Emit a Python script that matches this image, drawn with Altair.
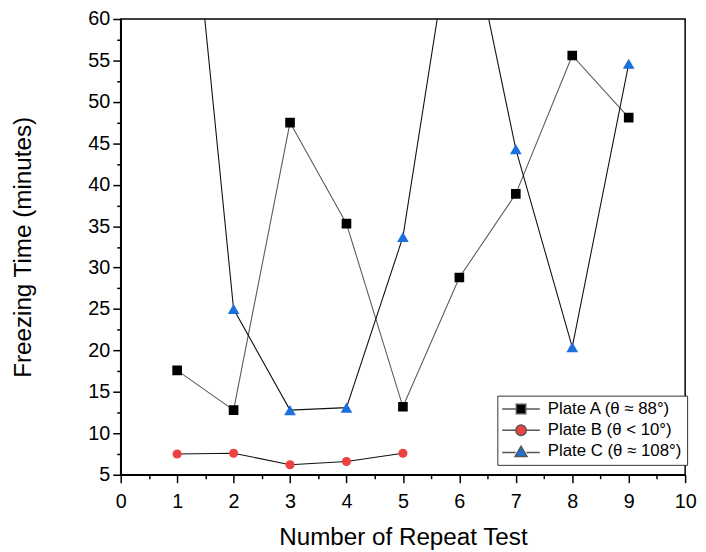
import altair as alt
import pandas as pd

# ---- data ----
series_names = ["Plate A (θ ≈ 88°)", "Plate B (θ < 10°)", "Plate C (θ ≈ 108°)"]
x_a = [1, 2, 3, 4, 5, 6, 7, 8, 9]
y_a = [17.6, 12.8, 47.5, 35.3, 13.2, 28.8, 38.9, 55.6, 48.1]
x_b = [1, 2, 3, 4, 5]
y_b = [7.5, 7.6, 6.2, 6.6, 7.6]
x_c = [1, 2, 3, 4, 5, 6, 7, 8, 9]
y_c = [93.6, 25.0, 12.8, 13.1, 33.7, 77.0, 44.3, 20.4, 54.6]

x_major = [0, 1, 2, 3, 4, 5, 6, 7, 8, 9, 10]
x_minor = [0.5, 1.5, 2.5, 3.5, 4.5, 5.5, 6.5, 7.5, 8.5, 9.5]
y_major = [5, 10, 15, 20, 25, 30, 35, 40, 45, 50, 55, 60]
y_minor = [7.5, 12.5, 17.5, 22.5, 27.5, 32.5, 37.5, 42.5, 47.5, 52.5, 57.5]

marker_colors = ["#000000", "#EE4242", "#1E6FDE"]
line_colors = ["#5a5a5a", "#111111", "#111111"]
shapes = ["square", "circle", "triangle-up"]
marker_sizes = [95, 85, 140]

rows = []
for name, xs, ys in zip(series_names, [x_a, x_b, x_c], [y_a, y_b, y_c]):
    for xv, yv in zip(xs, ys):
        rows.append({"series": name, "x": xv, "y": yv})
df = pd.DataFrame(rows)

FONT = "Liberation Sans"

# legend symbols: line segment + marker (custom paths, unit = sqrt(size)/2)
path_a = "M-3.8,0H-0.9M0.9,0H3.8M-0.95,-0.95H0.95V0.95H-0.95Z"
path_b = ("M-3.8,0H-1.05M1.05,0H3.8M1.05,0C1.05,0.58,0.58,1.05,0,1.05"
          "C-0.58,1.05,-1.05,0.58,-1.05,0C-1.05,-0.58,-0.58,-1.05,0,-1.05"
          "C0.58,-1.05,1.05,-0.58,1.05,0Z")
path_c = "M-3.8,0.2H-1.1M1.1,0.2H3.8M0,-1.05L1.2,1.0L-1.2,1.0Z"
legend_paths = [path_a, path_b, path_c]

x_scale = alt.Scale(domain=[0, 10], nice=False, zero=False)
y_scale = alt.Scale(domain=[5, 60], nice=False, zero=False)
color_scale = alt.Scale(domain=series_names, range=marker_colors)

major_x_axis = alt.Axis(values=x_major, orient="bottom", title="Number of Repeat Test",
                        tickSize=8, labelPadding=9, titlePadding=15, format="d",
                        titleFontSize=24.5,
                        labelFlush=False, labelOverlap=False)
major_y_axis = alt.Axis(values=y_major, orient="left", title="Freezing Time (minutes)",
                        tickSize=8, labelPadding=3, titlePadding=53, format="d",
                        titleFontSize=24.5,
                        labelFlush=False, labelOverlap=False)
minor_x_axis = alt.Axis(values=x_minor, orient="bottom", title=None, labels=False,
                        domain=False, tickSize=4)
minor_y_axis = alt.Axis(values=y_minor, orient="left", title=None, labels=False,
                        domain=False, tickSize=4)

base = alt.Chart(df)

x_enc_major = alt.X("x:Q", scale=x_scale, axis=major_x_axis)
y_enc_major = alt.Y("y:Q", scale=y_scale, axis=major_y_axis)
x_enc = alt.X("x:Q", scale=x_scale, axis=None)
y_enc = alt.Y("y:Q", scale=y_scale, axis=None)

line_layers = []
point_layers = []
for i, (name, shp, sz, col, lcol) in enumerate(
        zip(series_names, shapes, marker_sizes, marker_colors, line_colors)):
    sub = base.transform_filter(alt.datum.series == name)
    line_layers.append(
        sub.mark_line(clip=True, strokeWidth=1.1, color=lcol).encode(
            x=x_enc_major if i == 0 else x_enc,
            y=y_enc_major if i == 0 else y_enc,
            order="x:Q",
        )
    )
    point_layers.append(
        sub.mark_point(filled=True, opacity=1, clip=True, shape=shp, size=sz,
                       strokeWidth=0, color=col)
        .encode(x=x_enc, y=y_enc)
    )

# legend-only layer: zero-size marks, legend symbols use custom line+marker paths
legend_layer = base.mark_point(filled=True, size=0, opacity=1, stroke="#555555",
                               strokeWidth=0.9, clip=True).encode(
    x=x_enc,
    y=y_enc,
    color=alt.Color(
        "series:N", scale=color_scale,
        legend=alt.Legend(
            title=None, orient="none", legendX=381, legendY=381,
            padding=5, strokeColor="#333333", fillColor="white",
            symbolSize=100, symbolOffset=10.5, labelOffset=18.5,
            symbolOpacity=1,
            rowPadding=3.5, labelFontSize=17, labelFont=FONT, labelColor="black",
        ),
    ),
    shape=alt.Shape("series:N", scale=alt.Scale(domain=series_names, range=legend_paths)),
)

minor = base.mark_point(opacity=0).encode(
    x=alt.X("x:Q", scale=x_scale, axis=minor_x_axis),
    y=alt.Y("y:Q", scale=y_scale, axis=minor_y_axis),
)

chart = (
    alt.layer(*line_layers, *point_layers, legend_layer, minor)
    .resolve_axis(x="independent", y="independent")
    .properties(
        width=571, height=461, autosize="none",
        padding={"left": 114, "top": 8, "right": 13, "bottom": 75},
    )
    .configure_view(stroke="black", strokeWidth=1.5)
    .configure_axis(
        grid=False, domainColor="black", domainWidth=1.6, tickColor="black", tickWidth=1.5,
        labelFont=FONT, labelFontSize=20, labelColor="black",
        titleFont=FONT, titleColor="black", titleFontWeight="normal",
    )
    .configure_legend(labelFont=FONT)
)

chart.save("out.html", embed_options={"renderer": "svg", "actions": False})
